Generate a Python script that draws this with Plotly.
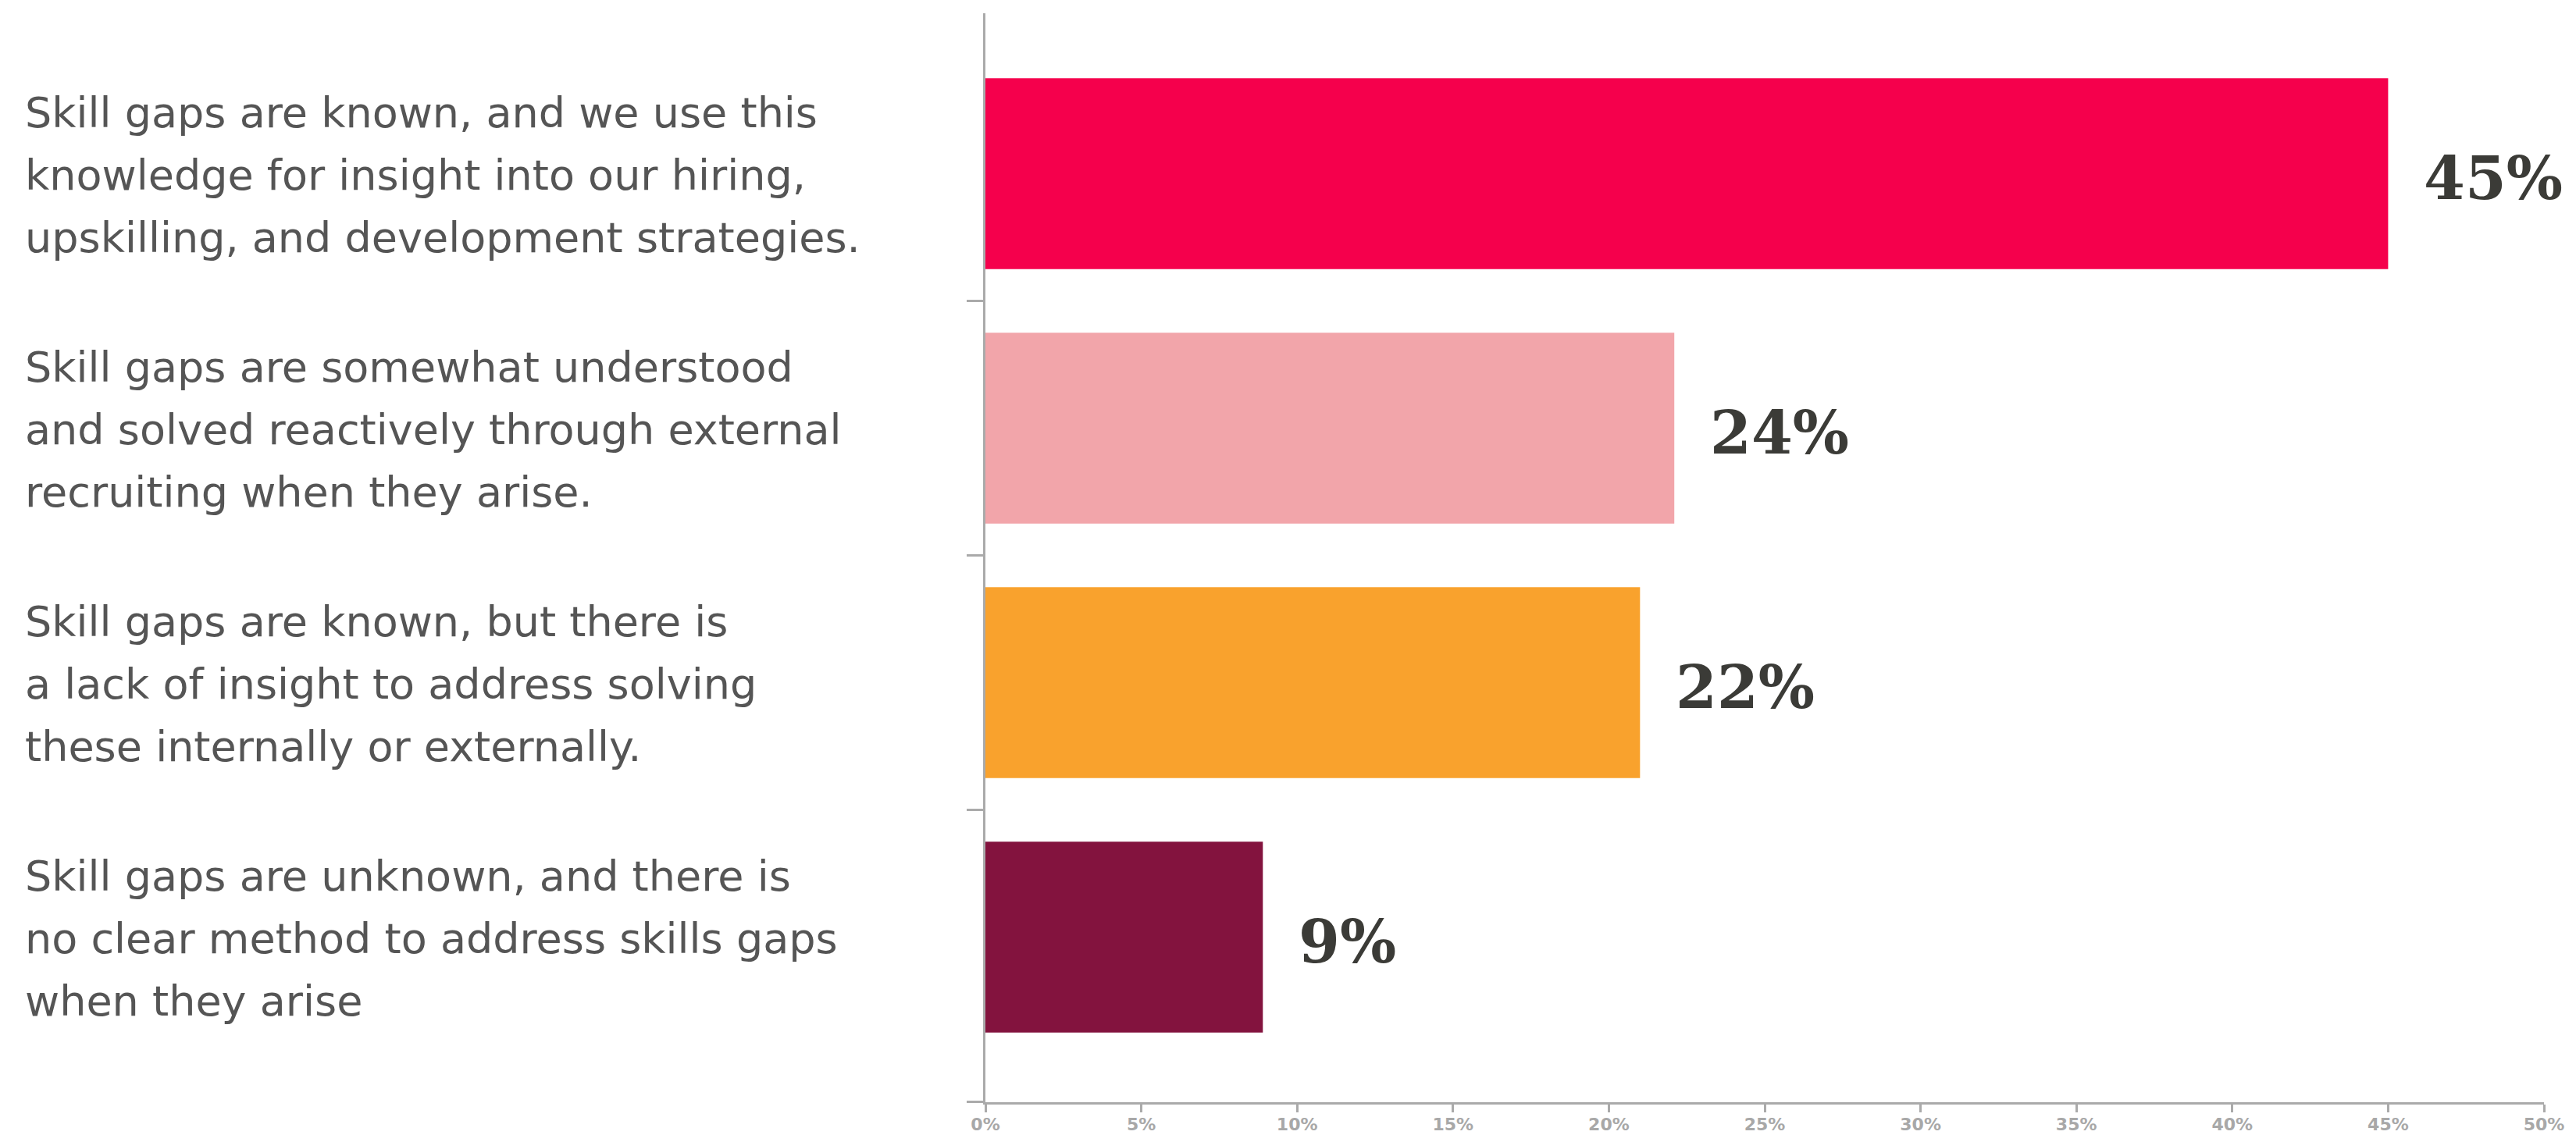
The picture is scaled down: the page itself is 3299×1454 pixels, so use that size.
import plotly.graph_objects as go

categories = [
    "Skill gaps are known, and we use this\nknowledge for insight into our hiring,\nupskilling, and development strategies.",
    "Skill gaps are somewhat understood\nand solved reactively through external\nrecruiting when they arise.",
    "Skill gaps are known, but there is\na lack of insight to address solving\nthese internally or externally.",
    "Skill gaps are unknown, and there is\nno clear method to address skills gaps\nwhen they arise",
]
values = [45.0, 22.1, 21.0, 8.9]
value_labels = ["45%", "24%", "22%", "9%"]
colors = ["#F5004C", "#F2A5AA", "#F9A22D", "#83133E"]
x_ticks = [0, 5, 10, 15, 20, 25, 30, 35, 40, 45, 50]
x_ticktext = [f"{t}%" for t in x_ticks]

W, H = 3299, 1454
ML, MR, MT, MB = 1262, 41, 17, 42
plot_w = W - ML - MR
positions = list(range(len(categories)))

fig = go.Figure()
fig.add_trace(go.Bar(
    x=values, y=positions, orientation="h",
    marker=dict(color=colors, line=dict(width=0)),
    width=0.75, hoverinfo="skip",
))

annotations = []
for i, (cat, lab, v) in enumerate(zip(categories, value_labels, values)):
    lines = cat.split("\n")
    n = len(lines)
    for j, line in enumerate(lines):
        annotations.append(dict(
            x=-(ML - 30) / plot_w, xref="paper", xanchor="left",
            y=i, yref="y", yanchor="middle",
            yshift=-(j - (n - 1) / 2) * 80 - 2,
            text=line, showarrow=False, align="left",
            font=dict(family="DejaVu Sans", size=54, color="#555555"),
        ))
    annotations.append(dict(
        x=v, xref="x", xanchor="left", xshift=44,
        y=i, yref="y", yanchor="middle", yshift=-6,
        text=lab, showarrow=False,
        font=dict(family="DejaVu Serif", size=76, color="#3B3B37", weight="bold"),
    ))

fig.update_layout(
    width=W, height=H,
    margin=dict(l=ML, r=MR, t=MT, b=MB, pad=0, autoexpand=False),
    plot_bgcolor="white", paper_bgcolor="white",
    showlegend=False,
    annotations=annotations,
    xaxis=dict(
        range=[0, 50], tickvals=x_ticks, ticktext=x_ticktext,
        showline=True, linecolor="#AAAAAA", linewidth=3,
        ticks="outside", ticklen=10, tickwidth=3, tickcolor="#AAAAAA",
        showgrid=False, zeroline=False, automargin=False,
        ticklabelstandoff=-3,
        tickfont=dict(family="DejaVu Sans", size=22, color="#A8A8A8", weight="bold"),
    ),
    yaxis=dict(
        range=[3.6488, -0.6304],
        tickvals=[0.5, 1.5, 2.5, 3.648], ticktext=["", "", "", ""],
        showline=True, linecolor="#AAAAAA", linewidth=3,
        ticks="outside", ticklen=21, tickwidth=3, tickcolor="#AAAAAA",
        showgrid=False, zeroline=False, showticklabels=False, automargin=False,
    ),
)

fig.write_html("out.html")
